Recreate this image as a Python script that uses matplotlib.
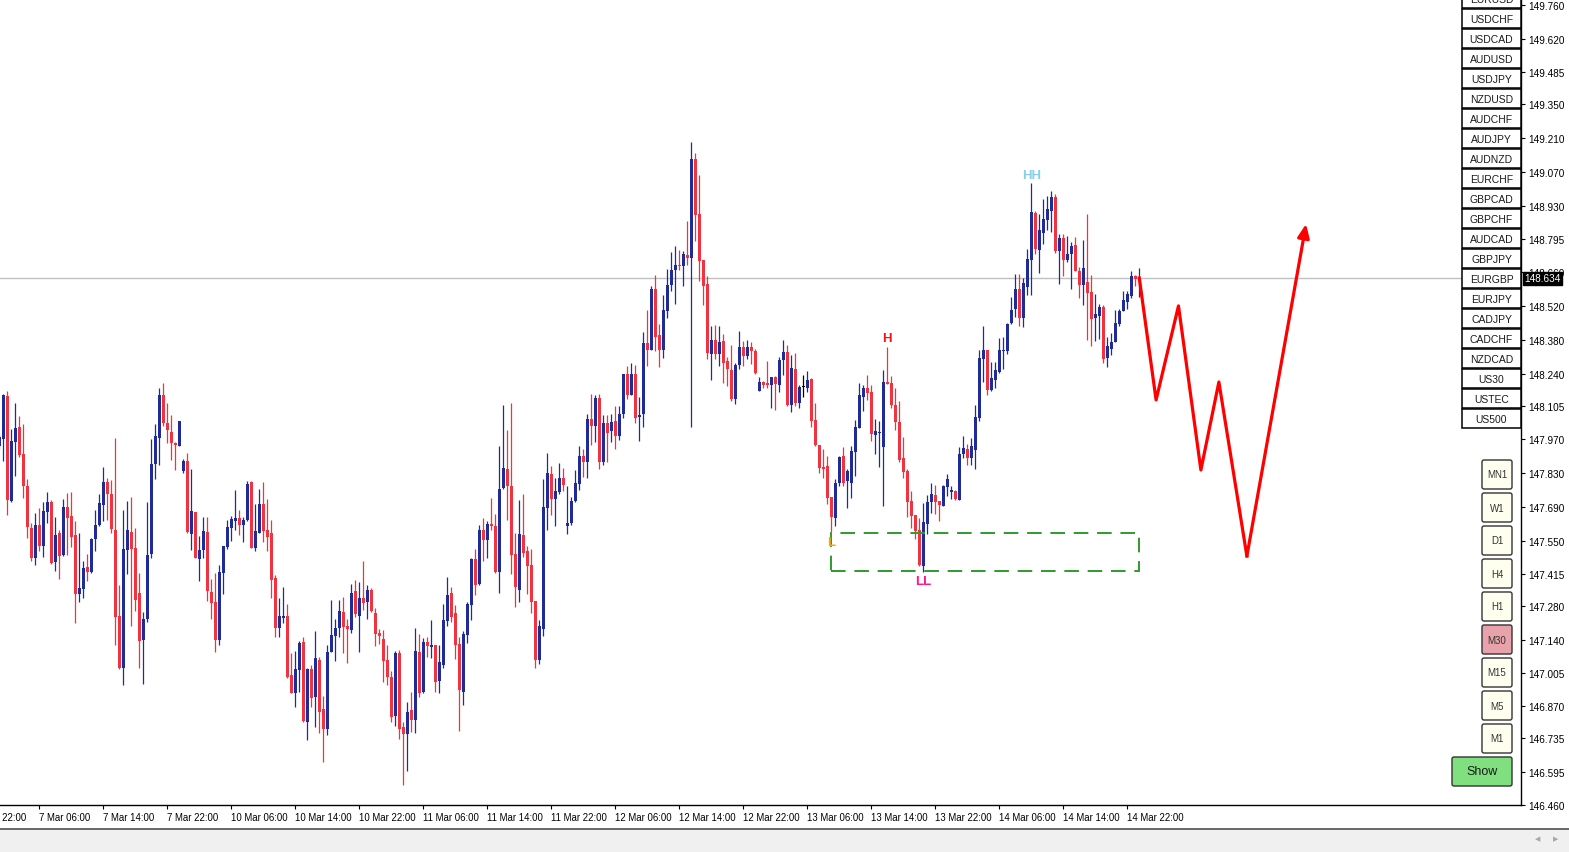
import numpy as np
import pandas as pd
import matplotlib
matplotlib.use("Agg")
import matplotlib.pyplot as plt
import matplotlib.transforms as mtransforms
from matplotlib.patches import Rectangle, FancyBboxPatch

plt.rcParams['font.family'] = ['Liberation Sans', 'DejaVu Sans']

# USDJPY M30, 7 Mar 01:00 .. 14 Mar 23:30
opens = [
    147.940, 147.970, 148.146, 147.716, 147.959, 148.020, 147.908, 147.776, 147.603, 147.481,
    147.616, 147.530, 147.670, 147.710, 147.464, 147.582, 147.493, 147.690, 147.653, 147.574,
    147.332, 147.353, 147.442, 147.422, 147.559, 147.617, 147.699, 147.793, 147.743, 147.595,
    147.240, 147.027, 147.514, 147.587, 147.521, 147.335, 147.142, 147.229, 147.497, 147.867,
    147.976, 148.152, 148.036, 147.999, 147.954, 147.943, 147.836, 147.879, 147.576, 147.669,
    147.473, 147.514, 147.587, 147.339, 147.298, 147.142, 147.419, 147.526, 147.604, 147.632,
    147.644, 147.617, 147.636, 147.793, 147.522, 147.584, 147.702, 147.595, 147.582, 147.397,
    147.192, 147.233, 147.240, 146.998, 146.924, 147.015, 147.133, 146.804, 147.019, 146.907,
    147.060, 146.858, 146.775, 147.093, 147.159, 147.192, 147.258, 147.200, 147.180, 147.341,
    147.241, 147.312, 147.299, 147.349, 147.250, 147.171, 147.143, 147.060, 146.990, 146.829,
    147.085, 146.780, 146.751, 146.850, 146.812, 147.093, 146.928, 147.134, 147.110, 147.122,
    146.973, 147.039, 147.221, 147.336, 147.250, 147.126, 146.928, 147.163, 147.287, 147.473,
    147.373, 147.596, 147.555, 147.621, 147.613, 147.423, 147.769, 147.848, 147.774, 147.497,
    147.349, 147.572, 147.506, 147.452, 147.303, 147.060, 147.188, 147.687, 147.827, 147.724,
    147.753, 147.807, 147.613, 147.625, 147.716, 147.786, 147.900, 147.873, 148.053, 148.025,
    148.137, 147.873, 148.034, 148.001, 148.046, 147.984, 148.071, 148.236, 148.153, 148.240,
    148.062, 148.071, 148.364, 148.335, 148.590, 148.397, 148.335, 148.496, 148.607, 148.665,
    148.689, 148.685, 148.727, 148.718, 149.127, 148.900, 148.710, 148.611, 148.322, 148.380,
    148.322, 148.376, 148.293, 148.256, 148.133, 148.277, 148.351, 148.314, 148.351, 148.331,
    148.166, 148.207, 148.199, 148.194, 148.226, 148.194, 148.296, 148.329, 148.110, 148.259,
    148.120, 148.185, 148.180, 148.217, 148.048, 147.945, 147.856, 147.859, 147.731, 147.646,
    147.790, 147.900, 147.798, 147.790, 147.918, 148.017, 148.145, 148.180, 148.165, 147.988,
    147.995, 147.938, 148.207, 148.202, 148.110, 148.040, 147.893, 147.838, 147.714, 147.657,
    147.596, 147.448, 147.619, 147.712, 147.740, 147.716, 147.695, 147.773, 147.753, 147.757,
    147.720, 147.906, 147.930, 147.893, 147.926, 148.058, 148.298, 148.339, 148.174, 148.215,
    148.248, 148.331, 148.331, 148.450, 148.508, 148.590, 148.467, 148.595, 148.710, 148.904,
    148.751, 148.821, 148.875, 148.912, 148.970, 148.747, 148.801, 148.710, 148.735, 148.772,
    148.661, 148.607, 148.619, 148.578, 148.467, 148.479, 148.516, 148.302, 148.343, 148.368,
    148.446, 148.496, 148.537, 148.561, 148.644, 148.632,
]
highs = [
    147.991, 148.156, 148.167, 148.011, 148.119, 148.065, 148.032, 147.805, 147.624, 147.665,
    147.686, 147.710, 147.752, 147.719, 147.649, 147.595, 147.723, 147.748, 147.752, 147.632,
    147.582, 147.467, 147.496, 147.562, 147.677, 147.743, 147.855, 147.809, 147.801, 147.974,
    147.368, 147.677, 147.714, 147.731, 147.603, 147.417, 147.257, 147.710, 147.970, 148.032,
    148.181, 148.201, 148.119, 148.069, 147.958, 148.045, 147.888, 147.913, 147.847, 147.669,
    147.570, 147.649, 147.649, 147.393, 147.417, 147.451, 147.529, 147.636, 147.653, 147.760,
    147.677, 147.649, 147.797, 147.797, 147.702, 147.764, 147.793, 147.723, 147.636, 147.409,
    147.312, 147.360, 147.290, 147.085, 147.097, 147.138, 147.151, 147.027, 147.039, 147.176,
    147.072, 146.911, 147.118, 147.307, 147.229, 147.307, 147.320, 147.229, 147.373, 147.390,
    147.378, 147.468, 147.369, 147.357, 147.274, 147.188, 147.180, 147.118, 147.011, 147.097,
    147.101, 146.804, 146.883, 146.928, 147.192, 147.167, 147.147, 147.155, 147.225, 147.122,
    147.122, 147.291, 147.402, 147.361, 147.287, 147.151, 147.176, 147.299, 147.477, 147.518,
    147.617, 147.646, 147.633, 147.728, 147.662, 147.939, 148.112, 148.009, 148.120, 147.584,
    147.720, 147.741, 147.530, 147.518, 147.303, 147.225, 147.803, 147.914, 147.860, 147.811,
    147.869, 147.852, 147.778, 147.732, 147.844, 147.939, 147.929, 148.071, 148.156, 148.153,
    148.156, 148.067, 148.067, 148.071, 148.104, 148.104, 148.240, 148.269, 148.285, 148.277,
    148.145, 148.413, 148.500, 148.603, 148.648, 148.446, 148.562, 148.673, 148.743, 148.768,
    148.751, 148.747, 148.871, 149.197, 149.151, 149.057, 148.710, 148.644, 148.438, 148.442,
    148.434, 148.401, 148.310, 148.359, 148.285, 148.417, 148.376, 148.380, 148.372, 148.343,
    148.227, 148.211, 148.293, 148.226, 148.230, 148.308, 148.378, 148.358, 148.317, 148.325,
    148.193, 148.234, 148.250, 148.222, 148.119, 147.945, 147.929, 147.900, 147.732, 147.806,
    147.901, 147.937, 147.848, 147.942, 148.048, 148.202, 148.194, 148.233, 148.194, 148.054,
    148.046, 148.255, 148.350, 148.230, 148.180, 148.125, 147.980, 147.848, 147.757, 147.658,
    147.646, 147.706, 147.740, 147.790, 147.782, 147.716, 147.782, 147.827, 147.778, 147.761,
    147.938, 147.984, 147.951, 147.976, 148.112, 148.335, 148.434, 148.339, 148.289, 148.289,
    148.388, 148.392, 148.450, 148.557, 148.652, 148.652, 148.636, 148.755, 149.024, 148.912,
    148.900, 148.958, 148.974, 148.995, 148.982, 148.817, 148.817, 148.809, 148.784, 148.805,
    148.681, 148.792, 148.896, 148.648, 148.570, 148.528, 148.524, 148.392, 148.409, 148.504,
    148.508, 148.582, 148.582, 148.661, 148.648, 148.677,
]
lows = [
    147.929, 147.881, 147.658, 147.709, 147.819, 147.895, 147.727, 147.563, 147.468, 147.452,
    147.506, 147.485, 147.625, 147.455, 147.427, 147.394, 147.489, 147.493, 147.526, 147.209,
    147.299, 147.316, 147.386, 147.419, 147.506, 147.613, 147.633, 147.637, 147.584, 147.122,
    147.019, 146.953, 147.411, 147.200, 147.262, 147.027, 146.961, 147.213, 147.481, 147.803,
    147.864, 148.025, 147.955, 147.885, 147.840, 147.939, 147.831, 147.584, 147.510, 147.477,
    147.386, 147.481, 147.303, 147.229, 147.093, 147.122, 147.332, 147.518, 147.551, 147.596,
    147.572, 147.543, 147.633, 147.522, 147.506, 147.584, 147.543, 147.506, 147.312, 147.151,
    147.155, 147.209, 146.982, 146.924, 146.866, 146.928, 146.804, 146.730, 146.866, 146.780,
    146.755, 146.639, 146.747, 147.093, 147.056, 147.155, 147.085, 147.044, 147.171, 147.237,
    147.093, 147.266, 147.229, 147.258, 147.114, 147.126, 146.969, 146.953, 146.804, 146.784,
    146.734, 146.543, 146.602, 146.763, 146.759, 146.907, 146.924, 147.072, 147.068, 146.928,
    146.924, 147.027, 147.200, 147.213, 147.064, 146.767, 146.874, 147.130, 147.225, 147.328,
    147.369, 147.468, 147.477, 147.596, 147.419, 147.336, 147.765, 147.637, 147.415, 147.275,
    147.299, 147.485, 147.332, 147.254, 147.027, 147.043, 147.159, 147.596, 147.658, 147.613,
    147.745, 147.757, 147.576, 147.617, 147.712, 147.761, 147.815, 147.811, 147.947, 147.959,
    147.848, 147.864, 147.873, 147.959, 147.930, 147.967, 148.058, 148.133, 148.153, 148.034,
    147.963, 148.021, 148.273, 148.335, 148.331, 148.265, 148.302, 148.467, 148.582, 148.528,
    148.665, 148.603, 148.689, 148.021, 148.788, 148.623, 148.524, 148.298, 148.215, 148.298,
    148.269, 148.199, 148.190, 148.128, 148.116, 148.260, 148.273, 148.298, 148.281, 148.240,
    148.166, 148.182, 148.182, 148.098, 148.091, 148.165, 148.234, 148.106, 148.083, 148.106,
    148.099, 148.145, 148.164, 148.021, 147.941, 147.831, 147.811, 147.703, 147.585, 147.613,
    147.778, 147.778, 147.687, 147.728, 147.819, 148.017, 148.087, 148.132, 147.963, 147.910,
    147.856, 147.695, 148.198, 148.099, 148.009, 147.877, 147.808, 147.650, 147.604, 147.556,
    147.448, 147.423, 147.580, 147.663, 147.661, 147.633, 147.695, 147.736, 147.722, 147.720,
    147.720, 147.893, 147.864, 147.864, 147.848, 148.046, 148.203, 148.153, 148.166, 148.182,
    148.244, 148.260, 148.322, 148.446, 148.475, 148.438, 148.430, 148.562, 148.562, 148.735,
    148.656, 148.776, 148.834, 148.825, 148.739, 148.611, 148.644, 148.698, 148.590, 148.661,
    148.553, 148.524, 148.380, 148.355, 148.376, 148.384, 148.285, 148.265, 148.318, 148.368,
    148.434, 148.496, 148.508, 148.553, 148.603, 148.557,
]
closes = [
    147.977, 148.152, 147.720, 147.962, 148.014, 147.904, 147.774, 147.605, 147.477, 147.616,
    147.530, 147.673, 147.710, 147.460, 147.574, 147.489, 147.690, 147.646, 147.567, 147.332,
    147.356, 147.438, 147.423, 147.558, 147.616, 147.706, 147.793, 147.741, 147.600, 147.237,
    147.027, 147.516, 147.595, 147.518, 147.307, 147.138, 147.228, 147.492, 147.867, 147.983,
    148.152, 148.034, 148.005, 147.955, 147.946, 148.045, 147.879, 147.588, 147.673, 147.481,
    147.512, 147.591, 147.341, 147.295, 147.142, 147.422, 147.529, 147.607, 147.640, 147.644,
    147.617, 147.636, 147.785, 147.522, 147.591, 147.702, 147.592, 147.567, 147.390, 147.192,
    147.240, 147.240, 146.990, 146.924, 147.019, 147.130, 146.808, 147.019, 146.903, 147.068,
    146.845, 146.775, 147.093, 147.163, 147.192, 147.262, 147.196, 147.184, 147.336, 147.246,
    147.312, 147.295, 147.349, 147.262, 147.167, 147.159, 147.056, 146.986, 146.825, 147.085,
    146.775, 146.751, 146.845, 146.812, 147.097, 146.924, 147.134, 147.114, 147.122, 146.969,
    147.048, 147.225, 147.328, 147.237, 147.122, 146.936, 147.167, 147.291, 147.473, 147.369,
    147.596, 147.555, 147.621, 147.613, 147.423, 147.765, 147.852, 147.774, 147.493, 147.361,
    147.580, 147.501, 147.448, 147.299, 147.060, 147.200, 147.691, 147.831, 147.724, 147.757,
    147.811, 147.782, 147.625, 147.716, 147.790, 147.901, 147.873, 148.053, 148.025, 148.141,
    147.877, 148.034, 147.996, 148.042, 147.984, 148.075, 148.240, 148.153, 148.240, 148.058,
    148.067, 148.364, 148.339, 148.590, 148.392, 148.335, 148.500, 148.607, 148.669, 148.689,
    148.685, 148.735, 148.718, 149.127, 148.892, 148.706, 148.603, 148.326, 148.380, 148.322,
    148.368, 148.285, 148.260, 148.133, 148.277, 148.351, 148.314, 148.351, 148.331, 148.244,
    148.207, 148.194, 148.194, 148.226, 148.198, 148.296, 148.329, 148.110, 148.263, 148.120,
    148.185, 148.185, 148.213, 148.044, 147.945, 147.852, 147.848, 147.727, 147.650, 147.788,
    147.897, 147.790, 147.839, 147.920, 148.021, 148.151, 148.180, 148.161, 147.992, 148.003,
    148.000, 148.207, 148.198, 148.110, 148.040, 147.885, 147.835, 147.712, 147.654, 147.592,
    147.452, 147.629, 147.712, 147.745, 147.712, 147.699, 147.778, 147.806, 147.760, 147.722,
    147.910, 147.934, 147.893, 147.943, 148.062, 148.302, 148.339, 148.174, 148.223, 148.256,
    148.339, 148.339, 148.446, 148.500, 148.590, 148.471, 148.615, 148.714, 148.908, 148.755,
    148.834, 148.879, 148.920, 148.970, 148.747, 148.801, 148.710, 148.735, 148.768, 148.661,
    148.607, 148.677, 148.574, 148.463, 148.487, 148.516, 148.298, 148.355, 148.368, 148.450,
    148.496, 148.545, 148.566, 148.644, 148.628, 148.634,
]

current_price = 148.634
price_ticks = [149.760, 149.620, 149.485, 149.350, 149.210, 149.070, 148.930, 148.795,
               148.660, 148.520, 148.380, 148.240, 148.105, 147.970, 147.830, 147.690,
               147.550, 147.415, 147.280, 147.140, 147.005, 146.870, 146.735, 146.595, 146.460]

# projected path (bar index, price)
proj_bars = [285, 289.2, 294.8, 300.4, 304.9, 311.9, 326.7]
proj_prices = [148.634, 148.131, 148.519, 147.842, 148.205, 147.487, 148.857]

# zone box
zone_bars = (208, 285)
zone_prices = (147.425, 147.582)

# swing labels
swing_text = ['L', 'H', 'LL', 'HH']
swing_bars = [208, 222, 231, 258]
swing_prices = [147.545, 148.387, 147.384, 149.059]
swing_colors = ['#FFA500', '#FF1010', '#FF1493', '#87CEEB']

symbols = ['EURUSD', 'USDCHF', 'USDCAD', 'AUDUSD', 'USDJPY', 'NZDUSD', 'AUDCHF',
           'AUDJPY', 'AUDNZD', 'EURCHF', 'GBPCAD', 'GBPCHF', 'AUDCAD', 'GBPJPY',
           'EURGBP', 'EURJPY', 'CADJPY', 'CADCHF', 'NZDCAD', 'US30', 'USTEC', 'US500']
timeframes = ['MN1', 'W1', 'D1', 'H4', 'H1', 'M30', 'M15', 'M5', 'M1']
active_tf = 'M30'

BLUE = '#1F2B96'
RED = '#F2323E'

o = np.array(opens)
h = np.array(highs)
l = np.array(lows)
c = np.array(closes)
n = len(c)
x = np.arange(n)

# bar times (weekends skipped); 6 bars before the first candle
times = pd.date_range('2025-03-06 22:00', '2025-03-14 23:30', freq='30min')
times = times[times.dayofweek < 5]
lead = 6
tpos = np.arange(len(times)) - lead

W, H = 1569, 853
fig = plt.figure(figsize=(W / 100, H / 100), dpi=100)
ax = fig.add_axes([0, 47 / H, 1521 / W, 806 / H])

cols = np.where(c > o, BLUE, np.where(c < o, RED, 'black'))
ax.axhline(current_price, color='#C0C0C0', lw=1, zorder=1)
ax.vlines(x, l, h, colors=cols, lw=0.9, zorder=3)
ax.bar(x, np.maximum(np.abs(c - o), 0.004), bottom=np.minimum(o, c), width=0.75,
       color=cols, lw=0, zorder=4)

# zone
ax.add_patch(Rectangle((zone_bars[0], zone_prices[0]), zone_bars[1] - zone_bars[0],
                       zone_prices[1] - zone_prices[0], fill=False, ec='#2E9B2E',
                       lw=1.4, ls=(0, (7.5, 4.5)), zorder=5))

# projection zigzag
ax.plot(proj_bars[:-1], proj_prices[:-1], color='#FF0000', lw=2.3, zorder=6)
ax.annotate('', xy=(proj_bars[-1], proj_prices[-1]), xytext=(proj_bars[-2], proj_prices[-2]),
            arrowprops=dict(arrowstyle='-|>,head_length=0.8,head_width=0.35',
                            color='#FF0000', lw=2.3, shrinkA=0, shrinkB=0), zorder=6)

for t, b, p, col in zip(swing_text, swing_bars, swing_prices, swing_colors):
    ax.text(b, p, t, color=col, fontsize=9.5, fontweight='bold', ha='center', va='center',
            zorder=7)

# axes look
for s in ['top', 'left']:
    ax.spines[s].set_visible(False)
for s in ['right', 'bottom']:
    ax.spines[s].set_color('black')
    ax.spines[s].set_linewidth(1)
ax.yaxis.tick_right()
ax.set_yticks(price_ticks)
ax.set_yticklabels([f'{v:.3f}' for v in price_ticks])
ax.tick_params(axis='y', length=3, width=0.8, pad=2, labelsize=7.2, colors='black')

mask = (times.minute == 0) & np.isin(times.hour, [6, 14, 22])
tick_pos = tpos[mask]
tick_lab = [f"{t.day} {t.strftime('%b')} {t.strftime('%H:%M')}" for t in times[mask]]
ax.set_xticks(tick_pos)
ax.set_xticklabels([''] * len(tick_pos))
ax.tick_params(axis='x', length=3, width=0.8)
trans = mtransforms.blended_transform_factory(ax.transData, ax.transAxes)
for p, s in zip(tick_pos, tick_lab):
    ax.text(p - 0.1, -12.5 / 806, s, ha='left', va='center', fontsize=6.9,
            transform=trans, clip_on=False)

# view limits last (set_xticks would widen them)
ax.set_xlim(0.175, 380.43)
ax.set_ylim(146.46, 149.785)

# current price box
ptrans = mtransforms.blended_transform_factory(ax.transAxes, ax.transData)
ax.text(1 + 3 / 1521, current_price, f'{current_price:.3f}', color='white', fontsize=7.2,
        ha='left', va='center', transform=ptrans, clip_on=False, zorder=10,
        bbox=dict(boxstyle='square,pad=0.15', fc='black', ec='black'))

# overlay for terminal panels
ov = fig.add_axes([0, 0, 1, 1])
ov.set_xlim(0, W)
ov.set_ylim(H, 0)
ov.axis('off')

for i, s in enumerate(symbols):
    top = -10 + 20 * i
    ov.add_patch(Rectangle((1462, top), 59, 19, fc='white', ec='black', lw=1.1))
    ov.text(1491.5, top + 9.8, s, fontsize=7.5, ha='center', va='center', color='#1a1a1a')

for i, tf in enumerate(timeframes):
    top = 461 + 33 * i
    fc = '#E8A2AA' if tf == active_tf else '#FFFFF0'
    ov.add_patch(FancyBboxPatch((1482, top), 30, 29, boxstyle='round,pad=0,rounding_size=2',
                                fc=fc, ec='#333333', lw=1))
    ov.text(1497, top + 14.5, tf, fontsize=7, ha='center', va='center', color='#333333')

ov.add_patch(FancyBboxPatch((1452, 758), 60, 29, boxstyle='round,pad=0,rounding_size=2',
                            fc='#80E080', ec='#333333', lw=1))
ov.text(1482, 772.5, 'Show', fontsize=9, ha='center', va='center', color='#1a1a1a')

# bottom scroll bar
ov.add_patch(Rectangle((0, 829), W, 24, fc='#F0F0F0', ec='none'))
ov.plot([0, W], [829.5, 829.5], color='#505050', lw=1.2)
ov.text(1538, 839, '◀', fontsize=5, color='#A8A8A8', ha='center', va='center',
        family='DejaVu Sans')
ov.text(1556, 839, '▶', fontsize=5, color='#A8A8A8', ha='center', va='center',
        family='DejaVu Sans')

fig.savefig('out.png', dpi=100)
